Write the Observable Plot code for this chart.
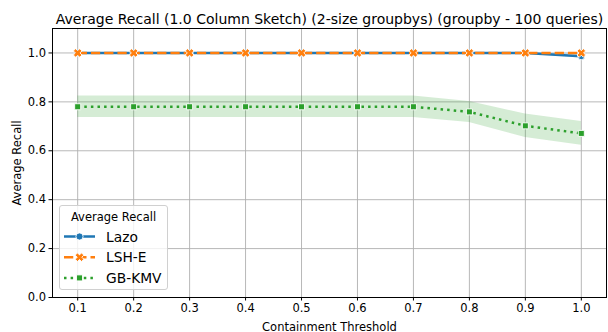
<!DOCTYPE html>
<html>
<head>
<meta charset="utf-8">
<script src="https://cdn.jsdelivr.net/npm/d3@7"></script>
<script src="https://cdn.jsdelivr.net/npm/@observablehq/plot@0.6"></script>
<style>
  body { margin: 0; background: #fff; }
  #wrap { position: relative; width: 608px; height: 332px; font-family: "DejaVu Sans", sans-serif; }
  #legend {
    position: absolute; left: 59px; top: 205px; width: 109px; height: 85px;
    border: 1px solid #d0d0d0; border-radius: 3px; background: rgba(255,255,255,0.8);
    box-sizing: border-box;
  }
</style>
</head>
<body>
<div id="wrap"></div>
<script>
// Containment thresholds on the x axis
const thresholds = [0.1, 0.2, 0.3, 0.4, 0.5, 0.6, 0.7, 0.8, 0.9, 1.0];

// Lazo: mean recall and confidence band
const lazoRecall = [1.0, 1.0, 1.0, 1.0, 1.0, 1.0, 1.0, 1.0, 1.0, 0.987];
const lazoLow    = [1.0, 1.0, 1.0, 1.0, 1.0, 1.0, 1.0, 1.0, 1.0, 0.978];
const lazoHigh   = [1.0, 1.0, 1.0, 1.0, 1.0, 1.0, 1.0, 1.0, 1.0, 0.995];

// LSH-E
const lshRecall = [1.0, 1.0, 1.0, 1.0, 1.0, 1.0, 1.0, 1.0, 1.0, 1.0];
const lshLow    = [1.0, 1.0, 1.0, 1.0, 1.0, 1.0, 1.0, 1.0, 1.0, 1.0];
const lshHigh   = [1.0, 1.0, 1.0, 1.0, 1.0, 1.0, 1.0, 1.0, 1.0, 1.0];

// GB-KMV
const gbRecall = [0.78, 0.78, 0.78, 0.78, 0.78, 0.78, 0.78, 0.759, 0.702, 0.671];
const gbLow    = [0.736, 0.736, 0.736, 0.736, 0.736, 0.736, 0.736, 0.716, 0.654, 0.623];
const gbHigh   = [0.824, 0.824, 0.824, 0.824, 0.824, 0.824, 0.824, 0.801, 0.750, 0.720];

const seriesNames = ["Lazo", "LSH-E", "GB-KMV"];
const seriesColors = ["#1f77b4", "#ff7f0e", "#2ca02c"];
const xTicks = thresholds;
const yTicks = [0.0, 0.2, 0.4, 0.6, 0.8, 1.0];

const titleText = "Average Recall (1.0 Column Sketch) (2-size groupbys) (groupby - 100 queries)";
const xLabel = "Containment Threshold";
const yLabel = "Average Recall";
const legendTitle = "Average Recall";

// Filled "X" marker (a plus rotated by 45 degrees)
const filledX = {
  draw(context, size) {
    const a = Math.sqrt(size / Math.PI) * 1.25;
    const w = a * 0.36;
    const pts = [[-w,-a],[w,-a],[w,-w],[a,-w],[a,w],[w,w],[w,a],[-w,a],[-w,w],[-a,w],[-a,-w],[-w,-w]]
      .map(([x, y]) => [(x - y) / Math.SQRT2, (x + y) / Math.SQRT2]);
    context.moveTo(pts[0][0], pts[0][1]);
    for (let i = 1; i < pts.length; i++) context.lineTo(pts[i][0], pts[i][1]);
    context.closePath();
  }
};

const series = [
  {name: seriesNames[0], color: seriesColors[0], v: lazoRecall, lo: lazoLow, hi: lazoHigh, dash: null, symbol: "circle", r: 3.6},
  {name: seriesNames[1], color: seriesColors[1], v: lshRecall, lo: lshLow, hi: lshHigh, dash: "9.25,4", symbol: filledX, r: 3.6},
  {name: seriesNames[2], color: seriesColors[2], v: gbRecall, lo: gbLow, hi: gbHigh, dash: "2.5,4.1", symbol: "square", r: 3.4}
];

const rowsOf = s => thresholds.map((t, i) => ({t, v: s.v[i], lo: s.lo[i], hi: s.hi[i]}));

const marks = [
  Plot.gridX(xTicks, {stroke: "#b0b0b0", strokeOpacity: 1, strokeWidth: 0.9}),
  Plot.gridY(yTicks, {stroke: "#b0b0b0", strokeOpacity: 1, strokeWidth: 0.9})
];
for (const s of series) {
  marks.push(Plot.areaY(rowsOf(s), {x: "t", y1: "lo", y2: "hi", fill: s.color, fillOpacity: 0.2}));
}
for (const s of series) {
  const rows = rowsOf(s);
  marks.push(Plot.lineY(rows, {x: "t", y: "v", stroke: s.color, strokeWidth: 2.5,
    strokeDasharray: s.dash || undefined, strokeLinecap: s.dash ? "butt" : "round"}));
  marks.push(Plot.dot(rows, {x: "t", y: "v", fill: s.color, stroke: "white", strokeWidth: 0.9,
    symbol: () => s.symbol, r: s.r}));
}
marks.push(Plot.frame({stroke: "black", strokeWidth: 1}));
marks.push(Plot.axisX(xTicks, {tickFormat: d3.format(".1f"), tickSize: 3.5, tickPadding: 3, fontSize: 11.5,
  label: xLabel, labelAnchor: "center", labelOffset: 33, labelArrow: "none"}));
marks.push(Plot.axisY(yTicks, {tickFormat: d3.format(".1f"), tickSize: 3.5, tickPadding: 3, fontSize: 11.5,
  label: yLabel, labelAnchor: "center", labelOffset: 40, labelArrow: "none"}));
marks.push(Plot.text([titleText], {frameAnchor: "top", dy: -14, fontSize: 14, fill: "black"}));

const chart = Plot.plot({
  width: 608, height: 332,
  marginLeft: 52, marginRight: 2, marginTop: 28, marginBottom: 35,
  style: {fontFamily: "DejaVu Sans, sans-serif", fontSize: "11.8px", color: "black", background: "white", overflow: "visible"},
  x: {domain: [0.055, 1.045]},
  y: {domain: [0, 1.1]},
  marks
});
const wrap = document.getElementById("wrap");
wrap.appendChild(chart);

// Legend box
const legend = document.createElement("div");
legend.id = "legend";
const ns = "http://www.w3.org/2000/svg";
const lsvg = document.createElementNS(ns, "svg");
lsvg.setAttribute("width", 107); lsvg.setAttribute("height", 83);
const t = document.createElementNS(ns, "text");
t.setAttribute("x", 53.5); t.setAttribute("y", 14.8); t.setAttribute("text-anchor", "middle");
t.setAttribute("font-size", "11.5"); t.setAttribute("font-family", "DejaVu Sans"); t.textContent = legendTitle;
lsvg.appendChild(t);
series.forEach((s, i) => {
  const y = 30.5 + i * 20.7;
  const ln = document.createElementNS(ns, "line");
  ln.setAttribute("x1", 4); ln.setAttribute("x2", 35); ln.setAttribute("y1", y); ln.setAttribute("y2", y);
  ln.setAttribute("stroke", s.color); ln.setAttribute("stroke-width", 2.5);
  if (s.dash) ln.setAttribute("stroke-dasharray", s.dash);
  lsvg.appendChild(ln);
  const p = document.createElementNS(ns, "path");
  const sym = typeof s.symbol === "string" ? (s.symbol === "circle" ? d3.symbolCircle : d3.symbolSquare) : s.symbol;
  p.setAttribute("d", d3.symbol(sym, s.r * s.r * Math.PI)());
  p.setAttribute("transform", `translate(${19.5},${y})`);
  p.setAttribute("fill", s.color); p.setAttribute("stroke", "white"); p.setAttribute("stroke-width", 0.9);
  lsvg.appendChild(p);
  const tx = document.createElementNS(ns, "text");
  tx.setAttribute("x", 46); tx.setAttribute("y", y + 5);
  tx.setAttribute("font-size", "13.8"); tx.setAttribute("font-family", "DejaVu Sans"); tx.textContent = s.name;
  lsvg.appendChild(tx);
});
legend.appendChild(lsvg);
wrap.appendChild(legend);
</script>
</body>
</html>
